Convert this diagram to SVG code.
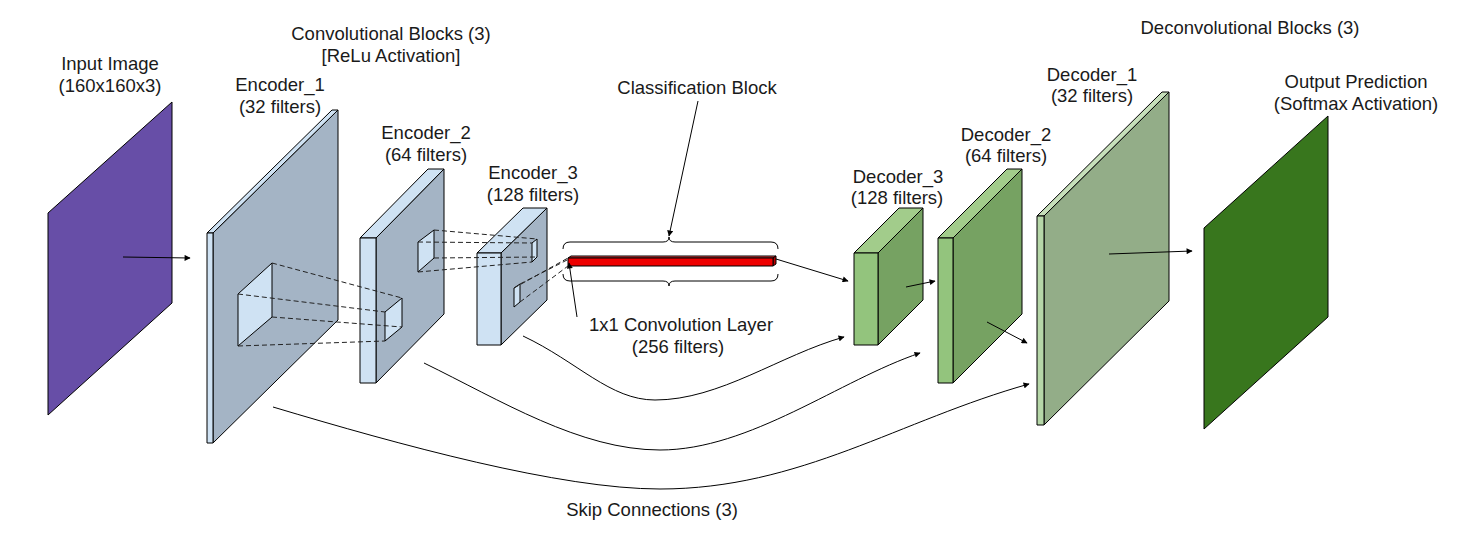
<svg xmlns="http://www.w3.org/2000/svg" width="1468" height="544" viewBox="0 0 1468 544">
<defs>
<style>
.t{font-family:"Liberation Sans",Arial,sans-serif;font-size:18.5px;fill:#1a1a1a;text-anchor:middle}
.e{stroke:#000;stroke-width:1;stroke-linejoin:round}
.ef{fill:#cfe2f3}
.es{fill:#a4b4c5}
.gf{fill:#93c47d}
.gt{fill:#a2cc8b}
.gs{fill:#76a262}
.lf{fill:#b6d7a8}
.lt{fill:#c6dfba}
.ls{fill:#93ad88}
.d{fill:none;stroke:#222;stroke-width:1;stroke-dasharray:5,3}
.c{fill:none;stroke:#000;stroke-width:1}
</style>
<marker id="ah" viewBox="0 0 10 10" refX="9" refY="5" markerWidth="8" markerHeight="6" markerUnits="userSpaceOnUse" orient="auto">
<path d="M0,0 L10,5 L0,10 z" fill="#000"/>
</marker>
</defs>
<rect width="1468" height="544" fill="#fff"/>

<g id="title-conv">
<text class="t" x="391" y="39.5">Convolutional Blocks (3)</text>
<text class="t" x="391" y="61.5">[ReLu Activation]</text>
</g>
<g id="title-deconv">
<text class="t" x="1250" y="33.5">Deconvolutional Blocks (3)</text>
</g>

<g id="input">
<polygon points="48,213 172,102 172,303 48,415" fill="#674ea7" class="e"/>
<text class="t" x="110" y="69.5">Input Image</text>
<text class="t" x="110" y="91.5">(160x160x3)</text>
</g>

<g id="encoder1">
<polygon class="e es" points="213,233 338,110 338,320 213,443"/>
<polygon class="e ef" points="207,233 332,110 338,110 213,233"/>
<rect class="e ef" x="207" y="233" width="6" height="210"/>
<polygon class="e ef" points="238,294 272,263 272,317 238,346"/>
<text class="t" x="280" y="91">Encoder_1</text>
<text class="t" x="280" y="113">(32 filters)</text>
</g>

<g id="encoder2">
<polygon class="e es" points="376,238 444,169 444,314 376,383"/>
<polygon class="e ef" points="360,238 428,169 444,169 376,238"/>
<rect class="e ef" x="360" y="238" width="16" height="145"/>
<polygon class="e ef" points="385,312 402,298 402,327 385,341"/>
<polygon class="e ef" points="418,242 434,230 434,258 418,272"/>
<text class="t" x="426" y="139">Encoder_2</text>
<text class="t" x="426" y="161">(64 filters)</text>
</g>

<g id="encoder3">
<polygon class="e es" points="501,253 547,208 547,300 501,345"/>
<polygon class="e ef" points="477,253 523,208 547,208 501,253"/>
<rect class="e ef" x="477" y="253" width="24" height="92"/>
<polygon class="e ef" points="532,243 537,239 537,257 532,262"/>
<polygon class="e ef" points="514,288 520,284 520,302 514,307"/>
<text class="t" x="533" y="179">Encoder_3</text>
<text class="t" x="533" y="201">(128 filters)</text>
</g>

<g id="classification">
<path class="c" d="M563,249 Q563,242 570,242 L663,242 Q669,242 669,237 Q669,242 675,242 L771,242 Q778,242 778,249"/>
<path class="c" d="M563,274 Q563,281 570,281 L663,281 Q669,281 669,286 Q669,281 675,281 L771,281 Q778,281 778,274"/>
<text class="t" x="697" y="94">Classification Block</text>
</g>

<g id="conv1x1">
<polygon points="568,258 571,256 776,256 773,258" fill="#f04a4a" class="e"/>
<polygon points="773,258 776,256 776,264 773,266" fill="#b80000" class="e"/>
<rect x="568" y="258" width="205" height="8" fill="#ee0000" class="e"/>
<text class="t" x="681" y="331">1x1 Convolution Layer</text>
<text class="t" x="678" y="353">(256 filters)</text>
</g>

<g id="decoder3">
<polygon class="e gs" points="878,253 923,208 923,300 878,345"/>
<polygon class="e gt" points="854,253 899,208 923,208 878,253"/>
<rect class="e gf" x="854" y="253" width="24" height="92"/>
<text class="t" x="898" y="183">Decoder_3</text>
<text class="t" x="897" y="204">(128 filters)</text>
</g>

<g id="decoder2">
<polygon class="e gs" points="953,238 1022,169 1022,314 953,383"/>
<polygon class="e gt" points="938,238 1007,169 1022,169 953,238"/>
<rect class="e gf" x="938" y="238" width="15" height="145"/>
<text class="t" x="1006" y="141">Decoder_2</text>
<text class="t" x="1006" y="162">(64 filters)</text>
</g>

<g id="decoder1">
<polygon class="e ls" points="1044,216 1169,92 1169,301 1044,425"/>
<polygon class="e lt" points="1037,216 1162,92 1169,92 1044,216"/>
<rect class="e lf" x="1037" y="216" width="7" height="209"/>
<text class="t" x="1092" y="81">Decoder_1</text>
<text class="t" x="1092" y="102">(32 filters)</text>
</g>

<g id="output">
<polygon points="1204,228 1328,116 1328,317 1204,429" fill="#38761d" class="e"/>
<text class="t" x="1356" y="88">Output Prediction</text>
<text class="t" x="1356" y="110">(Softmax Activation)</text>
</g>

<g id="skip-label">
<text class="t" x="652" y="516">Skip Connections (3)</text>
</g>

<g id="connectors">
<line class="d" x1="238" y1="294" x2="385" y2="312"/>
<line class="d" x1="272" y1="263" x2="402" y2="298"/>
<line class="d" x1="272" y1="317" x2="402" y2="327"/>
<line class="d" x1="238" y1="346" x2="385" y2="341"/>
<line class="d" x1="434" y1="230" x2="537" y2="239"/>
<line class="d" x1="418" y1="242" x2="532" y2="243"/>
<line class="d" x1="434" y1="258" x2="537" y2="257"/>
<line class="d" x1="418" y1="272" x2="532" y2="262"/>
<line class="d" x1="514" y1="288" x2="568" y2="258"/>
<line class="d" x1="520" y1="284" x2="569" y2="259"/>
<line class="d" x1="520" y1="302" x2="568" y2="266"/>
<line class="c" x1="123" y1="257" x2="190" y2="258" marker-end="url(#ah)"/>
<line class="c" x1="698" y1="101" x2="669" y2="236" marker-end="url(#ah)"/>
<line class="c" x1="577" y1="317" x2="569" y2="263" marker-end="url(#ah)"/>
<line class="c" x1="776" y1="259" x2="848" y2="281" marker-end="url(#ah)"/>
<line class="c" x1="906" y1="287" x2="935" y2="281" marker-end="url(#ah)"/>
<line class="c" x1="987" y1="322" x2="1027" y2="343" marker-end="url(#ah)"/>
<line class="c" x1="1109" y1="254" x2="1192" y2="251" marker-end="url(#ah)"/>
<path class="c" d="M523,336 C578,362 610,400 655,400 C720,400 780,355 844,337" marker-end="url(#ah)"/>
<path class="c" d="M424,363 C500,400 580,450 660,450 C750,450 840,380 920,353" marker-end="url(#ah)"/>
<path class="c" d="M273,407 C400,445 560,489 660,489 C800,489 900,420 1029,384" marker-end="url(#ah)"/>
</g>
</svg>
